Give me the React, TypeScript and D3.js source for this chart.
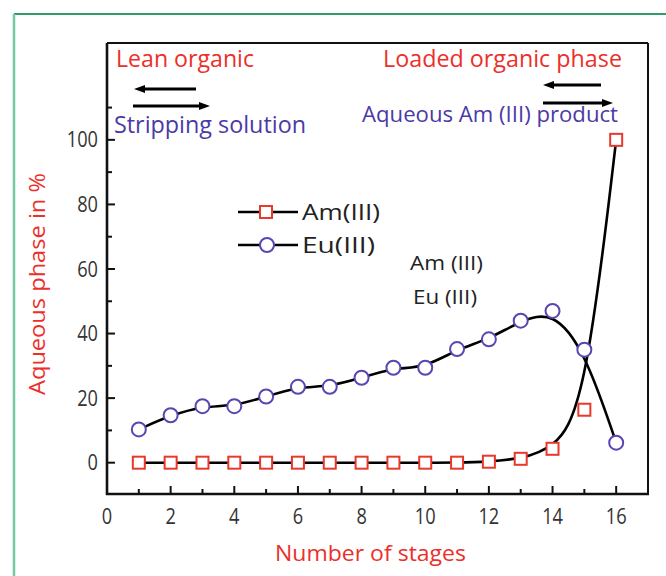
import React from "react";
import * as d3 from "d3";

const stages = [1, 2, 3, 4, 5, 6, 7, 8, 9, 10, 11, 12, 13, 14, 15, 16];
const amValues = [0, 0, 0, 0, 0, 0, 0, 0, 0, 0, 0, 0.3, 1.2, 4.3, 16.4, 100];
const euValues = [10.3, 14.7, 17.5, 17.5, 20.5, 23.5, 23.5, 26.3, 29.4, 29.4, 35.2, 38.2, 44, 47, 35, 6.2];
const xMajorTicks = [0, 2, 4, 6, 8, 10, 12, 14, 16];
const xMinorTicks = [1, 3, 5, 7, 9, 11, 13, 15];
const yMajorTicks = [0, 20, 40, 60, 80, 100];
const yMinorTicks = [10, 30, 50, 70, 90, 110];

const RED = "#ec2f2a";
const PURPLE = "#4b3aa6";
const SQ = "#e8392c";
const CIRC = "#5a45b2";
const FONT = "'Open Sans', 'Noto Sans', sans-serif";

export default function App() {
  const W = 666, H = 576;
  const left = 107, right = 648, top = 43, bottom = 494;
  const x = d3.scaleLinear().domain([0, 17]).range([left, right]);
  const y = d3.scaleLinear().domain([-9.7, 130]).range([bottom, top]);

  const line = d3
    .line<number>()
    .x((_, i) => x(stages[i]))
    .y((d) => y(d))
    .curve(d3.curveBasis);

  const arrow = (x1: number, x2: number, yy: number, dir: "l" | "r") => {
    const tip = dir === "r" ? x2 : x1;
    const s = dir === "r" ? -1 : 1;
    return (
      <g>
        <line x1={dir === "r" ? x1 : x1 + 6} x2={dir === "r" ? x2 - 6 : x2} y1={yy} y2={yy} stroke="#000" strokeWidth={3} />
        <path d={`M${tip},${yy} L${tip + s * 11},${yy - 4} L${tip + s * 11},${yy + 4} Z`} fill="#000" />
      </g>
    );
  };

  const tl = (t: number) => String(t).length * 10.4;

  return (
    <svg width={W} height={H} style={{ position: "absolute", left: 0, top: 0 }} fontFamily={FONT}>
      <rect width={W} height={H} fill="#fff" />
      {/* green border */}
      <line x1={14} x2={W} y1={14} y2={14} stroke="#2f9d6b" strokeWidth={2} />
      <line x1={14} x2={14} y1={14} y2={H} stroke="#74c9a0" strokeWidth={2.5} />

      {/* frame */}
      <line x1={left} x2={right} y1={top} y2={top} stroke="#111" strokeWidth={2} />
      <line x1={right} x2={right} y1={top} y2={bottom} stroke="#111" strokeWidth={2} />
      <line x1={left} x2={left} y1={top} y2={bottom + 1} stroke="#111" strokeWidth={2.6} />
      <line x1={left - 1} x2={right + 1} y1={bottom} y2={bottom} stroke="#111" strokeWidth={2.6} />

      {/* y ticks */}
      {yMajorTicks.map((t) => (
        <g key={"ym" + t}>
          <line x1={left} x2={left + 8} y1={y(t)} y2={y(t)} stroke="#111" strokeWidth={2} />
          <text
            x={left - 9 - tl(t)}
            y={y(t)}
            dy="0.36em"
            fontSize={21}
            fill="#333"
            textLength={tl(t)}
            lengthAdjust="spacingAndGlyphs"
          >
            {t}
          </text>
        </g>
      ))}
      {yMinorTicks.map((t) => (
        <line key={"yn" + t} x1={left} x2={left + 5} y1={y(t)} y2={y(t)} stroke="#111" strokeWidth={2} />
      ))}

      {/* x ticks */}
      {xMajorTicks.map((t) => (
        <g key={"xm" + t}>
          <line x1={x(t)} x2={x(t)} y1={bottom} y2={bottom - 8} stroke="#111" strokeWidth={2} />
          <text
            x={x(t) - tl(t) / 2}
            y={bottom + 30}
            fontSize={21}
            fill="#333"
            textLength={tl(t)}
            lengthAdjust="spacingAndGlyphs"
          >
            {t}
          </text>
        </g>
      ))}
      {xMinorTicks.map((t) => (
        <line key={"xn" + t} x1={x(t)} x2={x(t)} y1={bottom} y2={bottom - 5} stroke="#111" strokeWidth={2} />
      ))}

      {/* axis titles */}
      <text x={275} y={561} fontSize={22} fill={RED} textLength={191} lengthAdjust="spacingAndGlyphs">
        Number of stages
      </text>
      <text
        transform="translate(45,395) rotate(-90)"
        fontSize={22}
        fill={RED}
        textLength={222}
        lengthAdjust="spacingAndGlyphs"
      >
        Aqueous phase in %
      </text>

      {/* annotations */}
      <text x={116} y={67} fontSize={23} fill={RED} textLength={138} lengthAdjust="spacingAndGlyphs">
        Lean organic
      </text>
      <text x={383} y={67} fontSize={23} fill={RED} textLength={239} lengthAdjust="spacingAndGlyphs">
        Loaded organic phase
      </text>
      <text x={114} y={133} fontSize={23} fill={PURPLE} textLength={192} lengthAdjust="spacingAndGlyphs">
        Stripping solution
      </text>
      <text x={362} y={122} fontSize={22} fill={PURPLE} textLength={256} lengthAdjust="spacingAndGlyphs">
        Aqueous Am (III) product
      </text>
      {arrow(134, 196, 89, "l")}
      {arrow(133, 210, 106, "r")}
      {arrow(543, 601, 85, "l")}
      {arrow(543, 613, 103, "r")}

      <text x={410} y={270} fontSize={20} fill="#222" textLength={73} lengthAdjust="spacingAndGlyphs">
        Am (III)
      </text>
      <text x={413} y={304} fontSize={20} fill="#222" textLength={64} lengthAdjust="spacingAndGlyphs">
        Eu (III)
      </text>

      {/* lines */}
      <path d={line(amValues) || ""} fill="none" stroke="#000" strokeWidth={2.6} />
      <path d={line(euValues) || ""} fill="none" stroke="#000" strokeWidth={2.6} />

      {/* markers */}
      {amValues.map((v, i) => (
        <rect
          key={"am" + i}
          x={x(stages[i]) - 6}
          y={y(v) - 6}
          width={12}
          height={12}
          fill="#fff"
          stroke={SQ}
          strokeWidth={2}
        />
      ))}
      {euValues.map((v, i) => (
        <circle key={"eu" + i} cx={x(stages[i])} cy={y(v)} r={7} fill="#fff" stroke={CIRC} strokeWidth={2} />
      ))}

      {/* legend */}
      <line x1={238} x2={298} y1={212} y2={212} stroke="#000" strokeWidth={2.6} />
      <rect x={260} y={206} width={12} height={12} fill="#fff" stroke={SQ} strokeWidth={2} />
      <text x={302} y={212} dy="0.36em" fontSize={21} fill="#222" textLength={78} lengthAdjust="spacingAndGlyphs">
        Am(III)
      </text>
      <line x1={238} x2={298} y1={245} y2={245} stroke="#000" strokeWidth={2.6} />
      <circle cx={267} cy={245} r={7} fill="#fff" stroke={CIRC} strokeWidth={2} />
      <text x={302} y={245} dy="0.36em" fontSize={21} fill="#222" textLength={73} lengthAdjust="spacingAndGlyphs">
        Eu(III)
      </text>
    </svg>
  );
}
